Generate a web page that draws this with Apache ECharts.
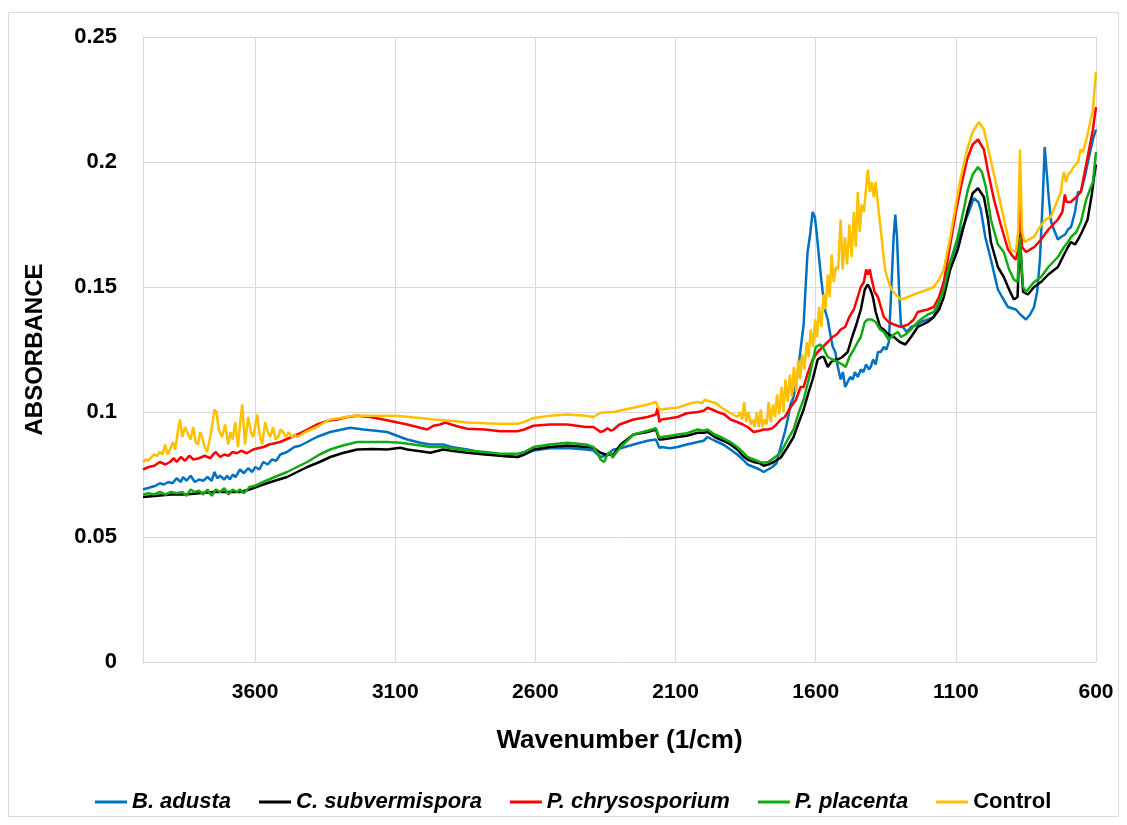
<!DOCTYPE html>
<html>
<head>
<meta charset="utf-8">
<script src="https://cdn.jsdelivr.net/npm/echarts@6/dist/echarts.min.js"></script>
<style>
html,body{margin:0;padding:0;background:#fff;}
#chart{width:1127px;height:825px;}
</style>
</head>
<body>
<div id="chart"></div>
<script>
// Series names (legend order)
const seriesNames = ['B. adusta', 'C. subvermispora', 'P. chrysosporium', 'P. placenta', 'Control'];
const seriesColors = ['#0070C0', '#000000', '#FF0000', '#12A912', '#FFC000'];

// [wavenumber (1/cm), absorbance]
const bAdusta = [[4000,0.069],[3985,0.0695],[3970,0.070],[3955,0.0705],[3940,0.0715],[3925,0.071],[3910,0.072],[3895,0.0715],[3880,0.0735],[3865,0.072],[3857,0.074],[3845,0.0725],[3830,0.0745],[3815,0.072],[3800,0.073],[3785,0.0725],[3770,0.074],[3755,0.0725],[3745,0.076],[3735,0.0735],[3725,0.0745],[3710,0.073],[3700,0.0745],[3690,0.073],[3680,0.075],[3670,0.074],[3654,0.077],[3640,0.0755],[3625,0.0775],[3610,0.076],[3600,0.078],[3585,0.077],[3571,0.080],[3555,0.079],[3540,0.081],[3525,0.0805],[3510,0.083],[3486,0.084],[3460,0.086],[3440,0.0865],[3414,0.088],[3380,0.090],[3332,0.092],[3290,0.093],[3261,0.0937],[3214,0.093],[3170,0.0925],[3129,0.092],[3082,0.090],[3057,0.089],[3011,0.0877],[2975,0.087],[2929,0.087],[2900,0.086],[2843,0.085],[2780,0.0835],[2725,0.0825],[2664,0.082],[2640,0.083],[2607,0.0846],[2550,0.0855],[2486,0.0856],[2420,0.085],[2393,0.0846],[2368,0.082],[2350,0.0825],[2321,0.085],[2296,0.0855],[2250,0.087],[2200,0.0885],[2170,0.089],[2164,0.0897],[2158,0.0857],[2150,0.086],[2120,0.0855],[2093,0.086],[2060,0.087],[2021,0.088],[2000,0.0885],[1986,0.090],[1960,0.0885],[1930,0.087],[1904,0.085],[1880,0.083],[1860,0.081],[1843,0.079],[1821,0.078],[1800,0.077],[1786,0.076],[1770,0.077],[1755,0.078],[1740,0.0795],[1725,0.086],[1710,0.092],[1700,0.097],[1690,0.103],[1679,0.106],[1665,0.115],[1654,0.125],[1643,0.135],[1636,0.150],[1629,0.164],[1620,0.171],[1611,0.180],[1603,0.178],[1596,0.171],[1590,0.164],[1582,0.155],[1575,0.148],[1565,0.140],[1557,0.137],[1548,0.131],[1539,0.126],[1530,0.124],[1521,0.118],[1511,0.113],[1503,0.116],[1495,0.110],[1486,0.112],[1477,0.114],[1468,0.113],[1460,0.116],[1450,0.114],[1439,0.117],[1430,0.116],[1420,0.119],[1410,0.117],[1404,0.118],[1395,0.121],[1386,0.119],[1378,0.124],[1368,0.124],[1357,0.126],[1348,0.125],[1339,0.128],[1330,0.150],[1322,0.170],[1316,0.179],[1310,0.170],[1303,0.150],[1296,0.135],[1289,0.134],[1275,0.132],[1260,0.134],[1236,0.135],[1225,0.136],[1200,0.137],[1179,0.138],[1160,0.144],[1143,0.152],[1120,0.160],[1093,0.168],[1075,0.174],[1057,0.179],[1036,0.1855],[1020,0.184],[1011,0.181],[995,0.170],[975,0.161],[950,0.149],[930,0.145],[914,0.142],[886,0.141],[870,0.139],[850,0.137],[835,0.139],[821,0.142],[810,0.148],[800,0.161],[790,0.185],[783,0.206],[776,0.196],[768,0.185],[760,0.176],[750,0.173],[736,0.169],[725,0.170],[710,0.171],[700,0.173],[689,0.174],[675,0.180],[664,0.188],[654,0.188],[640,0.194],[625,0.202],[611,0.209],[600,0.213]];

const cSubvermispora = [[4000,0.066],[3950,0.0665],[3900,0.067],[3850,0.067],[3800,0.0675],[3750,0.068],[3700,0.068],[3654,0.068],[3620,0.069],[3571,0.071],[3530,0.0725],[3486,0.074],[3450,0.076],[3414,0.078],[3370,0.080],[3332,0.082],[3290,0.0835],[3236,0.085],[3180,0.0852],[3129,0.085],[3082,0.0857],[3057,0.085],[3011,0.0843],[2975,0.0837],[2929,0.085],[2900,0.0845],[2843,0.0837],[2780,0.083],[2725,0.0825],[2664,0.082],[2640,0.083],[2607,0.085],[2550,0.086],[2486,0.0866],[2420,0.086],[2393,0.0857],[2368,0.0837],[2350,0.083],[2321,0.083],[2296,0.087],[2250,0.091],[2200,0.092],[2170,0.093],[2164,0.0933],[2158,0.089],[2150,0.089],[2120,0.0895],[2093,0.090],[2060,0.0905],[2021,0.0917],[2000,0.0917],[1986,0.092],[1960,0.090],[1930,0.0885],[1904,0.087],[1880,0.085],[1860,0.0825],[1843,0.081],[1821,0.080],[1800,0.0795],[1786,0.0785],[1770,0.079],[1750,0.080],[1725,0.0817],[1700,0.086],[1679,0.090],[1660,0.096],[1643,0.101],[1625,0.108],[1611,0.113],[1593,0.121],[1580,0.122],[1571,0.122],[1557,0.118],[1545,0.120],[1530,0.121],[1521,0.121],[1505,0.122],[1486,0.124],[1470,0.130],[1455,0.135],[1439,0.141],[1425,0.149],[1414,0.151],[1405,0.149],[1396,0.146],[1386,0.140],[1370,0.134],[1357,0.133],[1340,0.131],[1321,0.130],[1300,0.128],[1280,0.127],[1260,0.130],[1236,0.134],[1200,0.136],[1179,0.138],[1160,0.141],[1143,0.146],[1120,0.157],[1093,0.165],[1070,0.175],[1057,0.181],[1040,0.1875],[1021,0.1895],[1000,0.186],[985,0.177],[975,0.168],[950,0.158],[929,0.154],[910,0.149],[893,0.145],[880,0.146],[875,0.160],[871,0.172],[866,0.158],[860,0.148],[843,0.147],[821,0.150],[796,0.152],[770,0.155],[736,0.158],[714,0.163],[700,0.166],[689,0.168],[675,0.167],[664,0.169],[650,0.172],[630,0.177],[615,0.187],[607,0.194],[600,0.199]];

const pChrysosporium = [[4000,0.077],[3980,0.078],[3960,0.0785],[3940,0.080],[3920,0.079],[3904,0.080],[3890,0.0815],[3880,0.080],[3865,0.082],[3850,0.0805],[3835,0.0825],[3820,0.081],[3800,0.0815],[3780,0.0825],[3760,0.0815],[3750,0.083],[3740,0.084],[3725,0.082],[3710,0.083],[3695,0.0825],[3680,0.084],[3665,0.0835],[3650,0.0845],[3630,0.0835],[3607,0.085],[3590,0.0855],[3570,0.086],[3550,0.087],[3530,0.0875],[3511,0.088],[3480,0.0895],[3450,0.091],[3414,0.093],[3380,0.095],[3340,0.0965],[3307,0.097],[3270,0.098],[3236,0.0985],[3190,0.098],[3143,0.097],[3100,0.096],[3057,0.095],[3011,0.0937],[2986,0.093],[2964,0.0945],[2940,0.095],[2921,0.0958],[2900,0.095],[2870,0.094],[2843,0.0933],[2780,0.093],[2725,0.0923],[2664,0.0923],[2640,0.093],[2607,0.0945],[2550,0.095],[2486,0.095],[2420,0.094],[2393,0.094],[2380,0.093],[2368,0.092],[2355,0.0925],[2343,0.0935],[2330,0.0925],[2321,0.093],[2300,0.095],[2250,0.097],[2200,0.098],[2170,0.099],[2164,0.1017],[2158,0.096],[2150,0.097],[2120,0.0975],[2093,0.098],[2060,0.0995],[2021,0.100],[2000,0.1005],[1986,0.1017],[1970,0.101],[1950,0.100],[1925,0.099],[1904,0.097],[1880,0.096],[1860,0.095],[1843,0.094],[1821,0.092],[1800,0.0925],[1786,0.093],[1771,0.093],[1755,0.0935],[1740,0.095],[1725,0.097],[1710,0.098],[1689,0.102],[1670,0.105],[1654,0.110],[1643,0.110],[1630,0.115],[1611,0.121],[1593,0.124],[1575,0.126],[1557,0.128],[1540,0.130],[1525,0.131],[1511,0.133],[1495,0.134],[1480,0.138],[1464,0.141],[1450,0.146],[1439,0.150],[1428,0.152],[1420,0.157],[1414,0.155],[1407,0.157],[1400,0.153],[1390,0.148],[1378,0.146],[1357,0.138],[1340,0.136],[1321,0.135],[1296,0.134],[1270,0.135],[1250,0.137],[1236,0.140],[1200,0.141],[1179,0.142],[1160,0.146],[1143,0.152],[1120,0.167],[1100,0.180],[1082,0.190],[1060,0.201],[1040,0.207],[1021,0.209],[1000,0.205],[985,0.196],[964,0.185],[940,0.175],[914,0.165],[895,0.162],[886,0.161],[878,0.165],[871,0.185],[864,0.166],[850,0.164],[820,0.166],[796,0.169],[770,0.173],[736,0.177],[720,0.180],[711,0.187],[705,0.184],[690,0.184],[670,0.186],[654,0.188],[635,0.199],[611,0.213],[600,0.222]];

const pPlacenta = [[4000,0.067],[3980,0.0675],[3960,0.067],[3940,0.068],[3920,0.067],[3900,0.068],[3880,0.0675],[3860,0.068],[3845,0.0665],[3830,0.069],[3815,0.068],[3800,0.0685],[3785,0.067],[3770,0.069],[3755,0.0665],[3740,0.069],[3725,0.068],[3710,0.0695],[3695,0.067],[3680,0.069],[3665,0.068],[3654,0.069],[3640,0.0675],[3620,0.070],[3600,0.0705],[3571,0.072],[3530,0.074],[3486,0.076],[3450,0.078],[3414,0.080],[3370,0.083],[3332,0.085],[3290,0.0865],[3236,0.088],[3180,0.088],[3129,0.088],[3082,0.0877],[3036,0.087],[3011,0.0866],[2975,0.086],[2929,0.086],[2900,0.0855],[2843,0.0846],[2780,0.084],[2725,0.0833],[2664,0.0833],[2640,0.084],[2607,0.086],[2550,0.087],[2486,0.0877],[2420,0.087],[2393,0.086],[2375,0.083],[2368,0.081],[2355,0.080],[2343,0.083],[2333,0.084],[2325,0.0817],[2310,0.084],[2296,0.086],[2250,0.091],[2200,0.0925],[2170,0.0935],[2164,0.0937],[2158,0.0897],[2150,0.090],[2120,0.0905],[2093,0.091],[2060,0.0915],[2021,0.093],[2000,0.0925],[1986,0.093],[1960,0.091],[1930,0.0895],[1904,0.088],[1880,0.086],[1860,0.084],[1843,0.082],[1821,0.081],[1800,0.080],[1786,0.0797],[1770,0.080],[1750,0.0815],[1725,0.0837],[1700,0.089],[1679,0.093],[1660,0.100],[1643,0.105],[1625,0.113],[1611,0.120],[1600,0.126],[1585,0.127],[1575,0.126],[1557,0.122],[1540,0.121],[1521,0.120],[1505,0.119],[1493,0.118],[1480,0.122],[1464,0.125],[1450,0.128],[1439,0.130],[1425,0.136],[1414,0.137],[1400,0.137],[1386,0.136],[1370,0.133],[1357,0.132],[1340,0.129],[1321,0.131],[1307,0.132],[1296,0.130],[1280,0.131],[1260,0.133],[1236,0.136],[1225,0.137],[1200,0.139],[1179,0.140],[1160,0.144],[1143,0.149],[1120,0.160],[1093,0.170],[1070,0.182],[1057,0.189],[1040,0.195],[1021,0.198],[1007,0.196],[993,0.190],[975,0.177],[950,0.167],[929,0.164],[910,0.157],[893,0.153],[880,0.152],[875,0.162],[871,0.170],[866,0.160],[860,0.150],[850,0.148],[821,0.152],[796,0.154],[770,0.158],[736,0.162],[714,0.166],[700,0.168],[689,0.170],[670,0.172],[654,0.176],[635,0.185],[611,0.192],[600,0.204]];

const control = [[4000,0.080],[3990,0.081],[3980,0.0805],[3970,0.082],[3960,0.083],[3950,0.0825],[3940,0.084],[3930,0.083],[3921,0.087],[3912,0.083],[3900,0.086],[3893,0.088],[3885,0.085],[3876,0.092],[3868,0.097],[3860,0.090],[3850,0.094],[3839,0.091],[3830,0.089],[3821,0.094],[3812,0.088],[3804,0.087],[3796,0.092],[3789,0.090],[3780,0.086],[3771,0.084],[3762,0.089],[3754,0.094],[3745,0.101],[3738,0.100],[3730,0.093],[3718,0.090],[3707,0.095],[3696,0.087],[3688,0.092],[3680,0.089],[3671,0.096],[3661,0.086],[3654,0.095],[3646,0.103],[3636,0.087],[3625,0.098],[3615,0.092],[3607,0.090],[3600,0.094],[3593,0.099],[3584,0.091],[3575,0.087],[3564,0.096],[3555,0.092],[3546,0.090],[3536,0.094],[3527,0.089],[3518,0.090],[3509,0.093],[3500,0.092],[3490,0.090],[3480,0.092],[3470,0.090],[3460,0.091],[3450,0.090],[3420,0.092],[3400,0.093],[3380,0.094],[3350,0.096],[3332,0.097],[3300,0.0975],[3250,0.0985],[3200,0.0985],[3150,0.0985],[3100,0.0985],[3050,0.098],[3000,0.0975],[2964,0.097],[2900,0.0965],[2843,0.0958],[2780,0.0955],[2725,0.0953],[2664,0.0953],[2640,0.096],[2607,0.0976],[2550,0.0985],[2486,0.099],[2420,0.0985],[2393,0.098],[2368,0.0997],[2321,0.100],[2280,0.101],[2250,0.1017],[2200,0.103],[2170,0.104],[2164,0.1045],[2158,0.101],[2150,0.101],[2120,0.1015],[2093,0.1017],[2060,0.103],[2036,0.1037],[2020,0.104],[2005,0.1035],[1995,0.105],[1986,0.1045],[1970,0.104],[1955,0.1035],[1939,0.102],[1925,0.101],[1910,0.100],[1895,0.099],[1879,0.098],[1870,0.100],[1862,0.097],[1855,0.104],[1848,0.096],[1840,0.100],[1832,0.095],[1825,0.097],[1818,0.094],[1810,0.100],[1803,0.094],[1796,0.101],[1790,0.094],[1782,0.097],[1775,0.095],[1768,0.104],[1760,0.096],[1752,0.103],[1745,0.098],[1738,0.107],[1730,0.099],[1722,0.110],[1715,0.100],[1708,0.113],[1700,0.104],[1692,0.115],[1685,0.106],[1678,0.118],[1670,0.108],[1662,0.121],[1655,0.113],[1648,0.123],[1640,0.117],[1632,0.128],[1625,0.122],[1618,0.133],[1610,0.126],[1602,0.137],[1595,0.130],[1588,0.142],[1580,0.134],[1572,0.147],[1565,0.141],[1557,0.155],[1550,0.146],[1543,0.163],[1536,0.152],[1528,0.158],[1520,0.157],[1511,0.177],[1504,0.157],[1496,0.170],[1488,0.159],[1480,0.175],[1472,0.162],[1464,0.180],[1457,0.166],[1450,0.188],[1443,0.172],[1436,0.183],[1428,0.180],[1420,0.190],[1414,0.197],[1407,0.188],[1400,0.192],[1393,0.186],[1386,0.192],[1379,0.184],[1372,0.177],[1365,0.170],[1357,0.161],[1350,0.156],[1343,0.153],[1330,0.149],[1314,0.147],[1296,0.145],[1270,0.146],[1250,0.147],[1225,0.148],[1200,0.149],[1179,0.150],[1160,0.153],[1143,0.157],[1120,0.170],[1100,0.183],[1082,0.194],[1060,0.205],[1040,0.212],[1018,0.216],[1000,0.213],[980,0.203],[960,0.193],[950,0.188],[930,0.178],[904,0.165],[886,0.164],[878,0.172],[871,0.205],[864,0.172],[854,0.168],[840,0.169],[821,0.170],[800,0.174],[780,0.177],[761,0.178],[740,0.184],[725,0.188],[720,0.193],[714,0.196],[707,0.192],[700,0.195],[690,0.196],[680,0.198],[664,0.200],[655,0.205],[646,0.204],[630,0.211],[611,0.221],[600,0.236]];

const seriesData = [bAdusta, cSubvermispora, pChrysosporium, pPlacenta, control];
const italicFlags = [true, true, true, true, false];

const FONT = "'Liberation Sans', Arial, sans-serif";
const chart = echarts.init(document.getElementById('chart'), null, {renderer: 'canvas'});

chart.setOption({
  backgroundColor: '#ffffff',
  animation: false,
  graphic: [{
    type: 'rect',
    shape: {x: 8.5, y: 12.5, width: 1110, height: 804},
    style: {fill: 'none', stroke: '#d9d9d9', lineWidth: 1},
    silent: true
  }],
  grid: {left: 143, right: 31, top: 37, bottom: 163, containLabel: false},
  legend: {
    left: 90,
    top: 786,
    icon: 'rect',
    itemWidth: 32,
    itemHeight: 3,
    itemGap: 28,
    textStyle: {fontFamily: FONT, fontSize: 22, fontWeight: 'bold', color: '#000'},
    data: seriesNames.map((n, i) => ({
      name: n,
      textStyle: {fontStyle: italicFlags[i] ? 'italic' : 'normal'}
    }))
  },
  xAxis: {
    type: 'value',
    inverse: true,
    min: 600,
    max: 4000,
    interval: 500,
    name: 'Wavenumber (1/cm)',
    nameLocation: 'middle',
    nameGap: 66,
    nameTextStyle: {fontFamily: FONT, fontSize: 26, fontWeight: 'bold', color: '#000'},
    axisLine: {show: true, lineStyle: {color: '#d9d9d9', width: 1}},
    axisTick: {show: false},
    axisLabel: {
      fontFamily: FONT, fontSize: 21, fontWeight: 'bold', color: '#000', margin: 20,
      formatter: v => (v === 4000 ? '' : String(v))
    },
    splitLine: {show: true, lineStyle: {color: '#d9d9d9', width: 1}}
  },
  yAxis: {
    type: 'value',
    min: 0,
    max: 0.25,
    interval: 0.05,
    name: 'ABSORBANCE',
    nameLocation: 'middle',
    nameRotate: 90,
    nameGap: 96,
    nameTextStyle: {fontFamily: FONT, fontSize: 24, fontWeight: 'bold', color: '#000'},
    axisLine: {show: true, lineStyle: {color: '#d9d9d9', width: 1}},
    axisTick: {show: false},
    axisLabel: {
      fontFamily: FONT, fontSize: 22, fontWeight: 'bold', color: '#000', margin: 26,
      formatter: v => (v === 0 ? '0' : String(Math.round(v * 100) / 100))
    },
    splitLine: {show: true, lineStyle: {color: '#d9d9d9', width: 1}}
  },
  series: seriesNames.map((n, i) => ({
    name: n,
    type: 'line',
    data: seriesData[i],
    symbol: 'none',
    showSymbol: false,
    sampling: null,
    color: seriesColors[i],
    lineStyle: {color: seriesColors[i], width: 2.5},
    z: 2 + i
  }))
});
</script>
</body>
</html>
